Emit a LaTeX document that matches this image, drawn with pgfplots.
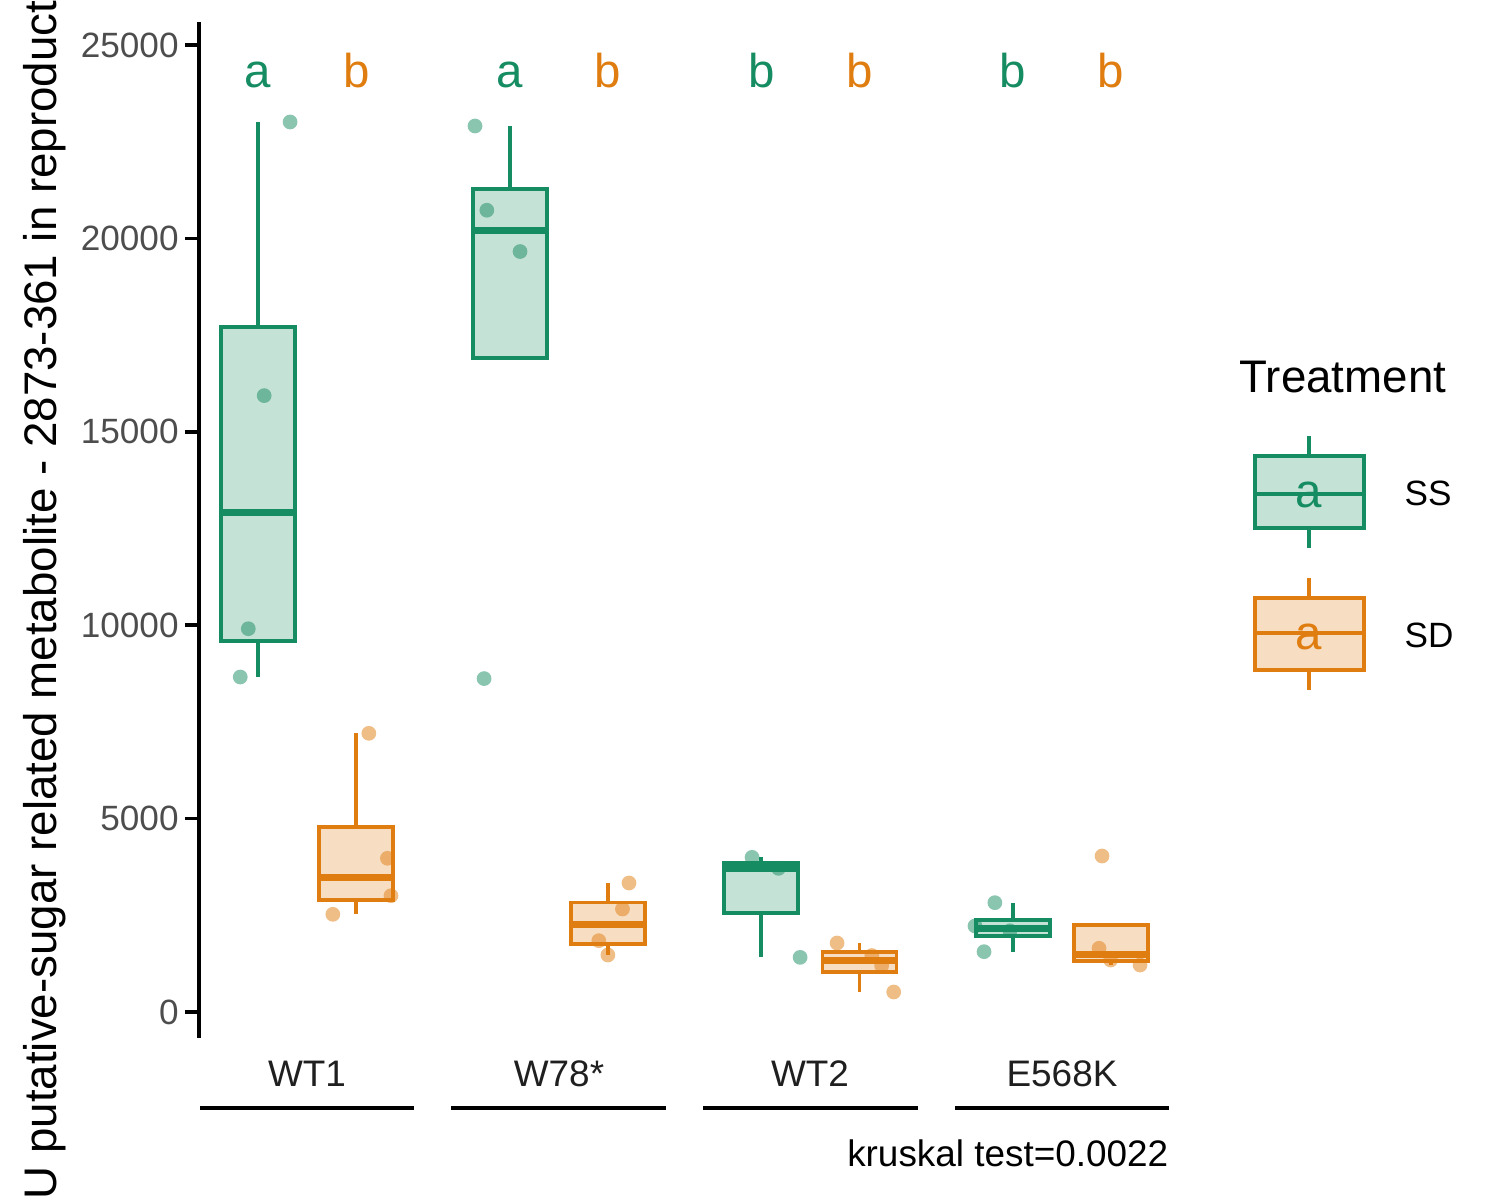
\documentclass[border=0pt]{standalone}
\usepackage{fontspec}
\setmainfont{Liberation Sans}
\usepackage{pgfplots}
\pgfplotsset{compat=1.18}
\usepgfplotslibrary{statistics}

\definecolor{ssline}{HTML}{168C62}
\definecolor{ssfill}{HTML}{C5E2D7}
\definecolor{sdline}{HTML}{E07D10}
\definecolor{sdfill}{HTML}{F7DEC3}
\definecolor{tickgray}{HTML}{4D4D4D}

\begin{document}
\begin{tikzpicture}
\begin{axis}[
    name=ax, at={(0,0)}, anchor=south west,
    scale only axis, width=9.7cm, height=10.16cm,
    xmin=0.57, xmax=4.425, ymin=-672, ymax=25595,
    axis y line*=left,
    axis x line=none,
    axis line style={black, line width=1.1pt},
    xtick=\empty,
    ytick={0,5000,10000,15000,20000,25000},
    scaled y ticks=false,
    /pgf/number format/1000 sep={},
    /pgf/number format/assume math mode=true,
    yticklabel style={font=\fontsize{10}{12}\selectfont, text=tickgray, xshift=0.06cm},
    tick align=outside, major tick length=0.14cm,
    ytick style={black, line width=1pt},
    clip=false,
    boxplot/draw direction=y,
    boxplot/every median/.style={line width=2pt},
]
% boxes: SS at group-0.195, SD at group+0.195
\addplot[draw=ssline, fill=ssfill, line width=1.1pt, boxplot prepared={draw position=0.805,
    lower whisker=8661, lower quartile=9597, median=12922, upper quartile=17704, upper whisker=23010,
    box extend=0.294, whisker extend=0}] coordinates {};
\addplot[draw=sdline, fill=sdfill, line width=1.1pt, boxplot prepared={draw position=1.195,
    lower whisker=2526, lower quartile=2887, median=3490, upper quartile=4782, upper whisker=7205,
    box extend=0.294, whisker extend=0}] coordinates {};
\addplot[draw=ssline, fill=ssfill, line width=1.1pt, boxplot prepared={draw position=1.805,
    lower whisker=16901, lower quartile=16901, median=20195, upper quartile=21273, upper whisker=22906,
    box extend=0.294, whisker extend=0}] coordinates {};
\addplot[draw=sdline, fill=sdfill, line width=1.1pt, boxplot prepared={draw position=2.195,
    lower whisker=1474, lower quartile=1751, median=2253, upper quartile=2831, upper whisker=3335,
    box extend=0.294, whisker extend=0}] coordinates {};
\addplot[draw=ssline, fill=ssfill, line width=1.1pt, boxplot prepared={draw position=2.805,
    lower whisker=1413, lower quartile=2563, median=3714, upper quartile=3856, upper whisker=3999,
    box extend=0.294, whisker extend=0}] coordinates {};
\addplot[draw=sdline, fill=sdfill, line width=1.1pt, boxplot prepared={draw position=3.195,
    lower whisker=517, lower quartile=1029, median=1330, upper quartile=1541, upper whisker=1784,
    box extend=0.294, whisker extend=0}] coordinates {};
\addplot[draw=ssline, fill=ssfill, line width=1.1pt, boxplot prepared={draw position=3.805,
    lower whisker=1560, lower quartile=1965, median=2161, upper quartile=2374, upper whisker=2827,
    box extend=0.294, whisker extend=0}] coordinates {};
\addplot[draw=sdline, fill=sdfill, line width=1.1pt, boxplot prepared={draw position=4.195,
    lower whisker=1215, lower quartile=1312, median=1496, upper quartile=2244, upper whisker=2244,
    box extend=0.294, whisker extend=0}] coordinates {};

% jittered points
\addplot[only marks, mark=*, mark size=2.1pt, color=ssline, mark options={draw opacity=0, fill=ssline, fill opacity=0.5}] coordinates {
    (0.932,23010) (0.829,15936) (0.766,9909) (0.734,8661)
    (1.667,22906) (1.714,20729) (1.846,19661) (1.703,8620)
    (2.768,3999) (2.873,3714) (2.959,1413)
    (3.733,2827) (3.654,2223) (3.690,1560) (3.793,2100)
};
\addplot[only marks, mark=*, mark size=2.1pt, color=sdline, mark options={draw opacity=0, fill=sdline, fill opacity=0.5}] coordinates {
    (1.245,7205) (1.319,3974) (1.333,3007) (1.102,2526)
    (2.279,3335) (2.253,2663) (2.159,1844) (2.195,1474)
    (3.106,1784) (3.244,1460) (3.283,1200) (3.331,517)
    (4.159,4033) (4.147,1647) (4.193,1344) (4.310,1215)
};

% significance letters
\begin{scope}[every node/.style={font=\fontsize{13.5}{15}\selectfont, anchor=base, inner sep=0pt}]
\node[text=ssline] at (axis cs:0.805,23914) {a};
\node[text=sdline] at (axis cs:1.195,23914) {b};
\node[text=ssline] at (axis cs:1.805,23914) {a};
\node[text=sdline] at (axis cs:2.195,23914) {b};
\node[text=ssline] at (axis cs:2.805,23914) {b};
\node[text=sdline] at (axis cs:3.195,23914) {b};
\node[text=ssline] at (axis cs:3.805,23914) {b};
\node[text=sdline] at (axis cs:4.195,23914) {b};
\end{scope}
\end{axis}

% group labels and strips
\begin{scope}[every node/.style={font=\fontsize{10.5}{12}\selectfont, text=black!88, anchor=base, inner sep=0pt}]
\node at (1.08,-0.487) {WT1};
\node at (3.60,-0.487) {W78*};
\node at (6.11,-0.487) {WT2};
\node at (8.63,-0.487) {E568K};
\end{scope}
\draw[black, line width=1.2pt] (0.01,-0.70) -- (2.15,-0.70);
\draw[black, line width=1.2pt] (2.52,-0.70) -- (4.67,-0.70);
\draw[black, line width=1.2pt] (5.04,-0.70) -- (7.19,-0.70);
\draw[black, line width=1.2pt] (7.56,-0.70) -- (9.70,-0.70);
\node[anchor=base east, inner sep=0pt, font=\fontsize{10.5}{12}\selectfont] at (9.70,-1.287) {kruskal test=0.0022};

% y label
\node[rotate=90, font=\fontsize{13}{15}\selectfont] at (-1.54,4.38) {U putative-sugar related metabolite - 2873-361 in reproduct};

% legend
\node[anchor=base west, inner sep=0pt, font=\fontsize{13}{15}\selectfont] at (10.40,6.45) {Treatment};
\draw[ssline, line width=1pt] (11.10,6.02) -- (11.10,5.82) (11.10,5.10) -- (11.10,4.90);
\draw[ssline, fill=ssfill, line width=1pt] (10.56,5.10) rectangle (11.65,5.82);
\draw[ssline, line width=1pt] (10.56,5.44) -- (11.65,5.44);
\node[anchor=base, inner sep=0pt, text=ssline, font=\fontsize{13.5}{15}\selectfont] at (11.10,5.30) {a};
\node[anchor=base west, inner sep=0pt, font=\fontsize{10}{12}\selectfont] at (12.05,5.32) {SS};
\draw[sdline, line width=1pt] (11.10,4.60) -- (11.10,4.40) (11.10,3.68) -- (11.10,3.48);
\draw[sdline, fill=sdfill, line width=1pt] (10.56,3.68) rectangle (11.65,4.40);
\draw[sdline, line width=1pt] (10.56,4.05) -- (11.65,4.05);
\node[anchor=base, inner sep=0pt, text=sdline, font=\fontsize{13.5}{15}\selectfont] at (11.10,3.88) {a};
\node[anchor=base west, inner sep=0pt, font=\fontsize{10}{12}\selectfont] at (12.05,3.91) {SD};

\pgfresetboundingbox
\path[use as bounding box] (-1.99,-1.62) rectangle (13.01,10.38);
\end{tikzpicture}
\end{document}
